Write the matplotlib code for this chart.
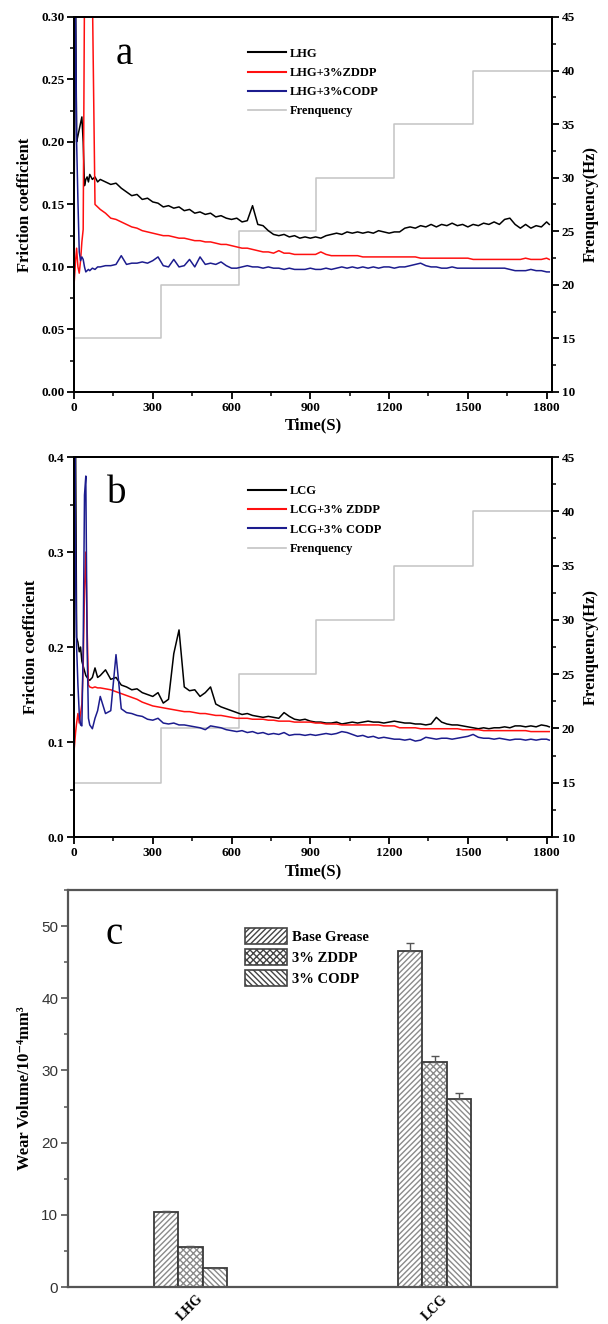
import numpy as np
import matplotlib
matplotlib.use('Agg')
import matplotlib.pyplot as plt
from matplotlib.patches import Patch
from matplotlib.lines import Line2D
from matplotlib.ticker import MultipleLocator

SERIF = ['Liberation Serif', 'DejaVu Serif']
SANS = ['Liberation Sans', 'DejaVu Sans']

# ---- time grid of the friction traces (s) ----
t_early = [0, 3, 6, 10, 15, 20, 25, 30, 35, 40, 45, 50, 55, 60, 70, 80, 90]
t_body = list(range(100, 1801, 20)) + [1810]
t_fric = t_early + t_body

# frequency steps (Hz)
freq_t = [0, 330, 628, 922, 1218, 1518, 1820]
freq_hz = [15, 20, 25, 30, 35, 40, 40]

# ---- panel a : LHG ----
lhg = [0.10, 0.32, 0.32, 0.200, 0.205, 0.210, 0.215, 0.220, 0.200, 0.165, 0.170, 0.172, 0.168, 0.174, 0.170, 0.172, 0.168,
       0.170, 0.168, 0.166, 0.167, 0.163, 0.160, 0.157, 0.158, 0.154, 0.155, 0.152, 0.151, 0.148, 0.149, 0.147, 0.148,
       0.145, 0.146, 0.143, 0.144, 0.142, 0.143, 0.140, 0.141, 0.139, 0.138, 0.139, 0.136, 0.137, 0.149, 0.134, 0.133,
       0.129, 0.126, 0.125, 0.126, 0.124, 0.125, 0.123, 0.124, 0.123, 0.124, 0.123, 0.125, 0.126, 0.127, 0.126, 0.128,
       0.127, 0.128, 0.127, 0.128, 0.127, 0.129, 0.128, 0.127, 0.128, 0.128, 0.131, 0.132, 0.131, 0.133, 0.132, 0.134,
       0.132, 0.134, 0.133, 0.135, 0.133, 0.134, 0.132, 0.134, 0.133, 0.135, 0.134, 0.136, 0.134, 0.138, 0.139, 0.134,
       0.131, 0.134, 0.131, 0.133, 0.132, 0.136, 0.134]
lhg_zddp = [0.085, 0.095, 0.105, 0.115, 0.100, 0.095, 0.105, 0.120, 0.130, 0.32, 0.32, 0.32, 0.32, 0.32, 0.32, 0.150, 0.148,
            0.146, 0.143, 0.139, 0.138, 0.136, 0.134, 0.132, 0.131, 0.129, 0.128, 0.127, 0.126, 0.125, 0.125, 0.124, 0.123,
            0.123, 0.122, 0.121, 0.121, 0.120, 0.120, 0.119, 0.118, 0.118, 0.117, 0.116, 0.115, 0.115, 0.114, 0.113, 0.112,
            0.112, 0.111, 0.113, 0.111, 0.111, 0.110, 0.110, 0.110, 0.110, 0.110, 0.112, 0.110, 0.109, 0.109, 0.109, 0.109,
            0.109, 0.109, 0.108, 0.108, 0.108, 0.108, 0.108, 0.108, 0.108, 0.108, 0.108, 0.108, 0.108, 0.107, 0.107, 0.107,
            0.107, 0.107, 0.107, 0.107, 0.107, 0.107, 0.107, 0.106, 0.106, 0.106, 0.106, 0.106, 0.106, 0.106, 0.106, 0.106,
            0.106, 0.107, 0.106, 0.106, 0.106, 0.107, 0.106]
lhg_codp = [0.09, 0.32, 0.30, 0.200, 0.153, 0.112, 0.105, 0.108, 0.106, 0.100, 0.096, 0.097, 0.098, 0.097, 0.099, 0.098, 0.100,
            0.100, 0.101, 0.101, 0.102, 0.109, 0.102, 0.103, 0.103, 0.104, 0.103, 0.105, 0.108, 0.101, 0.100, 0.106, 0.100,
            0.101, 0.106, 0.100, 0.108, 0.102, 0.103, 0.102, 0.104, 0.101, 0.099, 0.099, 0.100, 0.101, 0.100, 0.100, 0.099,
            0.100, 0.099, 0.099, 0.098, 0.099, 0.098, 0.098, 0.098, 0.099, 0.098, 0.098, 0.099, 0.098, 0.099, 0.100, 0.099,
            0.100, 0.099, 0.100, 0.099, 0.100, 0.099, 0.100, 0.100, 0.099, 0.100, 0.100, 0.101, 0.102, 0.103, 0.101, 0.100,
            0.100, 0.099, 0.099, 0.100, 0.099, 0.099, 0.099, 0.099, 0.099, 0.099, 0.099, 0.099, 0.099, 0.099, 0.098, 0.097,
            0.097, 0.097, 0.098, 0.097, 0.097, 0.096, 0.096]

# ---- panel b : LCG ----
lcg = [0.10, 0.42, 0.42, 0.210, 0.205, 0.195, 0.200, 0.185, 0.180, 0.175, 0.170, 0.168, 0.166, 0.165, 0.168, 0.178, 0.168,
       0.170, 0.176, 0.166, 0.168, 0.160, 0.158, 0.155, 0.156, 0.152, 0.150, 0.148, 0.152, 0.141, 0.145, 0.193, 0.218,
       0.158, 0.154, 0.155, 0.148, 0.152, 0.158, 0.140, 0.137, 0.135, 0.133, 0.131, 0.129, 0.130, 0.128, 0.127, 0.126,
       0.127, 0.126, 0.125, 0.131, 0.127, 0.124, 0.123, 0.124, 0.122, 0.121, 0.121, 0.120, 0.120, 0.121, 0.119, 0.120,
       0.121, 0.120, 0.121, 0.122, 0.121, 0.121, 0.120, 0.121, 0.122, 0.121, 0.120, 0.120, 0.119, 0.119, 0.118, 0.119,
       0.126, 0.121, 0.119, 0.118, 0.118, 0.117, 0.116, 0.115, 0.114, 0.115, 0.114, 0.115, 0.115, 0.116, 0.115, 0.117,
       0.117, 0.116, 0.117, 0.116, 0.118, 0.117, 0.116]
lcg_zddp = [0.09, 0.10, 0.11, 0.12, 0.13, 0.12, 0.13, 0.14, 0.18, 0.26, 0.30, 0.22, 0.160, 0.158, 0.157, 0.158, 0.157,
            0.157, 0.156, 0.155, 0.153, 0.151, 0.149, 0.147, 0.145, 0.142, 0.140, 0.138, 0.137, 0.136, 0.135, 0.134, 0.133,
            0.132, 0.132, 0.131, 0.130, 0.130, 0.129, 0.128, 0.128, 0.127, 0.126, 0.125, 0.125, 0.125, 0.124, 0.124, 0.124,
            0.123, 0.123, 0.122, 0.122, 0.122, 0.121, 0.121, 0.121, 0.121, 0.120, 0.120, 0.119, 0.119, 0.119, 0.118, 0.118,
            0.118, 0.118, 0.118, 0.118, 0.118, 0.118, 0.117, 0.117, 0.117, 0.115, 0.115, 0.115, 0.115, 0.114, 0.114, 0.114,
            0.114, 0.114, 0.114, 0.114, 0.114, 0.113, 0.113, 0.113, 0.113, 0.112, 0.112, 0.112, 0.112, 0.112, 0.112, 0.112,
            0.112, 0.112, 0.111, 0.111, 0.111, 0.111, 0.111]
lcg_codp = [0.09, 0.42, 0.30, 0.20, 0.16, 0.13, 0.118, 0.117, 0.20, 0.36, 0.38, 0.20, 0.125, 0.118, 0.114, 0.125, 0.133,
            0.148, 0.130, 0.133, 0.192, 0.135, 0.131, 0.130, 0.128, 0.127, 0.124, 0.123, 0.125, 0.120, 0.119, 0.120, 0.118,
            0.118, 0.117, 0.116, 0.115, 0.113, 0.117, 0.116, 0.115, 0.113, 0.112, 0.111, 0.112, 0.110, 0.111, 0.109, 0.110,
            0.108, 0.109, 0.108, 0.110, 0.107, 0.108, 0.108, 0.107, 0.108, 0.107, 0.108, 0.109, 0.108, 0.109, 0.111, 0.110,
            0.108, 0.106, 0.107, 0.105, 0.106, 0.104, 0.105, 0.104, 0.103, 0.103, 0.102, 0.103, 0.101, 0.102, 0.105, 0.104,
            0.103, 0.104, 0.104, 0.103, 0.104, 0.105, 0.106, 0.108, 0.105, 0.104, 0.104, 0.103, 0.104, 0.103, 0.102, 0.103,
            0.103, 0.102, 0.103, 0.102, 0.103, 0.103, 0.102]

# ---- panel c : wear volume (10^-4 mm^3) ----
greases = ['LHG', 'LCG']
additives = ['Base Grease', '3% ZDDP', '3% CODP']
wear = [[10.4, 46.5], [5.6, 31.2], [2.6, 26.1]]
wear_err = [[0.2, 1.1], [0.15, 0.8], [0.1, 0.8]]
hatches = ['//////', 'xxxxx', '\\\\\\\\\\\\']

C_BLACK, C_RED, C_BLUE, C_FREQ = '#000000', '#ff1010', '#1c1c8e', '#c4c4c4'


def friction_panel(fig, rect, series, labels, ylim, ystep, letter, letter_xy, leg_xy):
    ax = fig.add_axes(rect)
    ax2 = ax.twinx()
    ax2.step(freq_t, freq_hz, where='post', color=C_FREQ, lw=1.1)
    ax2.set_ylim(10, 45)
    ax2.yaxis.set_major_locator(MultipleLocator(5))
    ax2.yaxis.set_minor_locator(MultipleLocator(2.5))
    ax.set_zorder(ax2.get_zorder() + 1)
    ax.patch.set_visible(False)

    for y, c in zip(series, [C_BLACK, C_RED, C_BLUE]):
        ax.plot(t_fric, y, color=c, lw=1.1)

    ax.set_xlim(0, 1820)
    ax.set_ylim(*ylim)
    ax.xaxis.set_major_locator(MultipleLocator(300))
    ax.xaxis.set_minor_locator(MultipleLocator(150))
    ax.yaxis.set_major_locator(MultipleLocator(ystep))
    ax.yaxis.set_minor_locator(MultipleLocator(ystep / 2))
    for a in (ax, ax2):
        a.tick_params(which='major', direction='out', length=5, width=1.3, labelsize=9.5, pad=2)
        a.tick_params(which='minor', direction='out', length=3, width=1.1)
        for s in a.spines.values():
            s.set_linewidth(1.4)
        for lab in a.get_xticklabels() + a.get_yticklabels():
            lab.set_family(SERIF)
            lab.set_fontweight('bold')
    ax.tick_params(axis='x', which='both', top=False)

    ax.set_xlabel('Time(S)', family=SERIF, fontweight='bold', fontsize=12, labelpad=3)
    ax.set_ylabel('Friction coefficient', family=SERIF, fontweight='bold', fontsize=12, labelpad=6)
    ax2.set_ylabel('Frenquency(Hz)', family=SERIF, fontweight='bold', fontsize=12, labelpad=6)
    ax.text(letter_xy[0], letter_xy[1], letter, transform=ax.transAxes, family=SERIF,
            fontsize=28, ha='center', va='center')

    handles = [Line2D([], [], color=C_BLACK, lw=1.5), Line2D([], [], color=C_RED, lw=1.5),
               Line2D([], [], color=C_BLUE, lw=1.5), Line2D([], [], color=C_FREQ, lw=1.2)]
    ax.legend(handles, labels, loc='upper left', bbox_to_anchor=leg_xy, frameon=False,
              prop={'family': SERIF, 'weight': 'bold', 'size': 9}, handlelength=3.0,
              handletextpad=0.3, labelspacing=0.58, borderpad=0, borderaxespad=0)
    return ax


fig = plt.figure(figsize=(6.08, 13.24), dpi=100)

friction_panel(fig, [0.1217, 0.704, 0.786, 0.2832], [lhg, lhg_zddp, lhg_codp],
               ['LHG', 'LHG+3%ZDDP', 'LHG+3%CODP', 'Frenquency'],
               (0, 0.30), 0.05, 'a', (0.105, 0.90), (0.365, 0.918))
friction_panel(fig, [0.1217, 0.3678, 0.786, 0.287], [lcg, lcg_zddp, lcg_codp],
               ['LCG', 'LCG+3% ZDDP', 'LCG+3% CODP', 'Frenquency'],
               (0, 0.4), 0.1, 'b', (0.09, 0.905), (0.365, 0.926))

# ---- bar chart ----
axc = fig.add_axes([0.112, 0.0279, 0.804, 0.2999])
x = np.arange(1, len(greases) + 1)
w = 0.1
for i, (vals, errs, h) in enumerate(zip(wear, wear_err, hatches)):
    xs = x + (i - 1) * w
    axc.bar(xs, vals, w, color='white', edgecolor='#8a8a8a', hatch=h, lw=0)
    axc.bar(xs, vals, w, fill=False, edgecolor='#3a3a3a', lw=1.3)
    axc.errorbar(xs, vals, yerr=[[0] * len(errs), errs], fmt='none', ecolor='#555555',
                 elinewidth=1, capsize=3, capthick=1)

axc.set_xlim(0.5, 2.5)
axc.set_ylim(0, 55)
axc.set_xticks(x)
axc.set_xticklabels(greases, rotation=45, family=SERIF, fontweight='bold', fontsize=10)
axc.tick_params(axis='x', length=0, pad=4)
axc.yaxis.set_major_locator(MultipleLocator(10))
axc.yaxis.set_minor_locator(MultipleLocator(5))
axc.tick_params(axis='y', which='major', direction='out', length=5, width=1.2, color='#555555',
                labelsize=11, labelcolor='#333333', pad=2)
axc.tick_params(axis='y', which='minor', direction='out', length=3, width=1.1, color='#555555')
for lab in axc.get_yticklabels():
    lab.set_family(SANS)
for s in axc.spines.values():
    s.set_linewidth(1.6)
    s.set_color('#555555')
axc.set_ylabel('Wear Volume/10\u207b\u2074mm\u00b3', family=SERIF, fontweight='bold', fontsize=12, labelpad=6)
axc.text(0.095, 0.888, 'c', transform=axc.transAxes, family=SERIF, fontsize=28, ha='center', va='center')

leg_handles = [Patch(facecolor='white', edgecolor='#444444', hatch=h, lw=1.2) for h in hatches]
axc.legend(leg_handles, additives, loc='upper left', bbox_to_anchor=(0.362, 0.905), frameon=False,
           prop={'family': SERIF, 'weight': 'bold', 'size': 10.5}, handlelength=2.9, handleheight=1.3,
           handletextpad=0.3, labelspacing=0.35, borderpad=0, borderaxespad=0)

fig.savefig('out.png', dpi=100)
